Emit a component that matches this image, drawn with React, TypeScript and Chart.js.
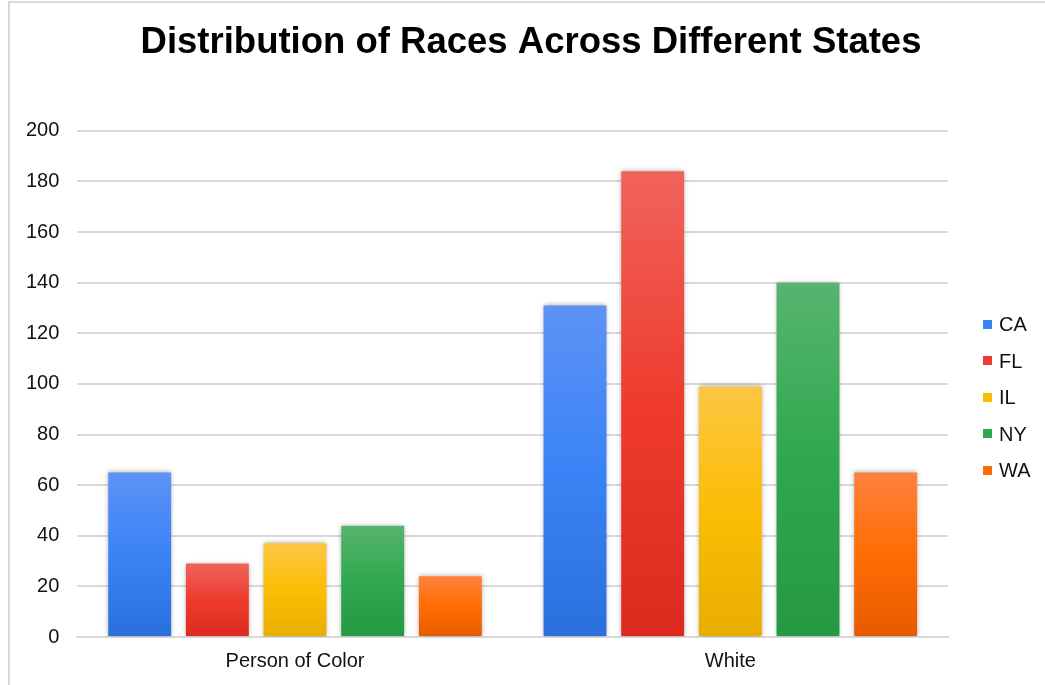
import React, { useEffect, useRef } from "react";
import { Chart, registerables } from "chart.js";

Chart.register(...registerables);

// Race groups along the x axis
const categories = ["Person of Color", "White"];

// State series
const states = ["CA", "FL", "IL", "NY", "WA"];

// Counts per state, in category order
const caValues = [65, 131];
const flValues = [29, 184];
const ilValues = [37, 99];
const nyValues = [44, 140];
const waValues = [24, 65];

// Y axis ticks
const yMax = 200;
const yStep = 20;

const seriesValues = [caValues, flValues, ilValues, nyValues, waValues];

// Top / middle / bottom gradient stops for each state's bars
const palette: string[][] = [
  ["#5e92f5", "#3a83f6", "#2a6fdc"],
  ["#f0635c", "#ee3b2e", "#dd2a1f"],
  ["#fdc643", "#fbbd05", "#e8ae00"],
  ["#58b46f", "#2fa84e", "#259943"],
  ["#ff8240", "#ff6c02", "#e65b00"],
];

const FONT = "Arial, 'Liberation Sans', sans-serif";

// Canvas is a little wider than the page so the title centres over the whole figure
const CANVAS_W = 1060;
const CANVAS_H = 685;
const LEGEND_GUTTER = 106;

function barGradient(ctx: any, stops: string[]) {
  const chart = ctx.chart;
  const area = chart.chartArea;
  const yScale = chart.scales?.y;
  if (!area || !yScale || ctx.type !== "data") return stops[1];
  const top = yScale.getPixelForValue(ctx.raw as number);
  const bottom = yScale.getPixelForValue(0);
  if (!isFinite(top) || !isFinite(bottom) || bottom - top < 1) return stops[1];
  const g = chart.ctx.createLinearGradient(0, top, 0, bottom);
  g.addColorStop(0, stops[0]);
  g.addColorStop(0.5, stops[1]);
  g.addColorStop(1, stops[2]);
  return g;
}

// Soft drop shadow around the bars
const barShadow = {
  id: "barShadow",
  beforeDatasetsDraw(chart: any) {
    const c = chart.ctx;
    c.save();
    c.shadowColor = "rgba(0,0,0,0.35)";
    c.shadowBlur = 5;
    c.shadowOffsetX = 0;
    c.shadowOffsetY = 0;
  },
  afterDatasetsDraw(chart: any) {
    chart.ctx.restore();
  },
};

export default function App() {
  const canvasRef = useRef<HTMLCanvasElement | null>(null);

  useEffect(() => {
    document.body.style.overflow = "hidden";
    const canvas = canvasRef.current;
    if (!canvas) return;

    const chart = new Chart(canvas, {
      type: "bar",
      data: {
        labels: categories,
        datasets: states.map((s, i) => ({
          label: s,
          data: seriesValues[i],
          backgroundColor: (ctx: any) => barGradient(ctx, palette[i]),
          borderWidth: 0,
          categoryPercentage: 0.892,
          barPercentage: 0.81,
        })),
      },
      options: {
        responsive: false,
        animation: false,
        layout: { padding: { left: 8, right: 6, top: 6, bottom: 0 } },
        plugins: {
          title: {
            display: true,
            text: "Distribution of Races Across Different States",
            color: "#000",
            font: { family: FONT, size: 36.5, weight: "bold" },
            padding: { top: 15, bottom: 66 },
          },
          legend: { display: false },
          tooltip: { enabled: false },
        },
        scales: {
          x: {
            grid: { display: false, drawTicks: false },
            border: { display: true, color: "#d9d9d9", width: 2 },
            ticks: {
              color: "#111",
              font: { family: FONT, size: 20 },
              padding: 12,
            },
          },
          y: {
            min: 0,
            max: yMax,
            border: { display: false },
            grid: { color: "#d9d9d9", lineWidth: 2, drawTicks: false },
            ticks: {
              stepSize: yStep,
              color: "#111",
              font: { family: FONT, size: 20 },
              padding: 18,
            },
          },
          // empty right-hand axis that reserves room for the legend
          legendGutter: {
            type: "linear",
            position: "right",
            display: true,
            grid: { display: false, drawTicks: false },
            border: { display: false },
            ticks: { display: false },
            afterFit(scale: any) {
              scale.width = LEGEND_GUTTER;
            },
          },
        },
      },
      plugins: [barShadow],
    });

    return () => chart.destroy();
  }, []);

  return (
    <div
      style={{
        position: "fixed",
        left: 0,
        top: 0,
        width: 1045,
        height: 685,
        overflow: "hidden",
        background: "#fff",
      }}
    >
      <canvas ref={canvasRef} width={CANVAS_W} height={CANVAS_H} style={{ display: "block" }} />
      <div
        style={{
          position: "absolute",
          left: 983,
          top: 306,
          fontFamily: FONT,
          fontSize: 20,
          color: "#111",
        }}
      >
        {states.map((s, i) => (
          <div key={s} style={{ height: 36.5, display: "flex", alignItems: "center" }}>
            <span
              style={{
                display: "inline-block",
                width: 9,
                height: 9,
                background: palette[i][1],
                marginRight: 7,
              }}
            />
            <span style={{ lineHeight: "20px" }}>{s}</span>
          </div>
        ))}
      </div>
      <div
        style={{
          position: "absolute",
          left: 8,
          top: 1,
          width: 1037,
          height: 684,
          boxSizing: "border-box",
          borderLeft: "2px solid #d9d9d9",
          borderTop: "2px solid #d9d9d9",
          pointerEvents: "none",
        }}
      />
    </div>
  );
}
